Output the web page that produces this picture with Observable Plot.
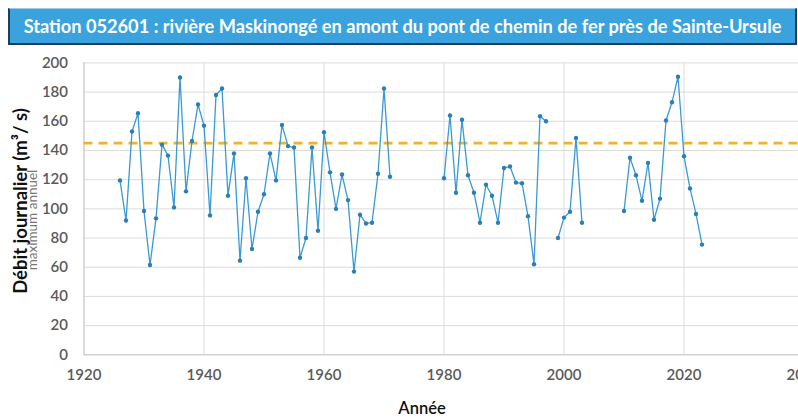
<!DOCTYPE html>
<html>
<head>
<meta charset="utf-8">
<script src="https://cdn.jsdelivr.net/npm/d3@7"></script>
<script src="https://cdn.jsdelivr.net/npm/@observablehq/plot@0.6"></script>
<style>
  html, body { margin: 0; padding: 0; background: #fff; overflow: hidden; }
  #wrap { position: relative; width: 798px; height: 418px; overflow: hidden; font-family: Lato, "Open Sans", sans-serif; }
  #chart { position: absolute; left: 0; top: 0; width: 830px; }
  #chart svg { max-width: none !important; }
  #title { position: absolute; left: 8px; top: 8px; width: 785px; height: 34px; background: #3aa3dd;
           border-left: 2px solid #1e3f5c; border-right: 2px solid #1e3f5c; border-bottom: 2px solid #1e3f5c; border-top: 1px solid #9cc9e6;
           color: #fff; font-weight: 700; font-size: 18.2px; line-height: 34px; text-align: center; white-space: nowrap; }
  .rot { position: absolute; transform: translate(-50%, -50%) rotate(-90deg); white-space: nowrap; }
  #ylab { left: 20px; top: 201px; font-size: 18.5px; font-weight: 700; color: #111; }
  #ysub { left: 32px; top: 220px; font-size: 13.5px; color: #777; }
  #xlab { position: absolute; left: 422px; top: 408px; transform: translate(-50%, -50%); font-size: 16.5px; font-weight: 600; color: #111; }
</style>
</head>
<body>
<div id="wrap">
  <div id="chart"></div>
  <div id="title">Station 052601 : rivière Maskinongé en amont du pont de chemin de fer près de Sainte-Ursule</div>
  <div id="ylab" class="rot">Débit journalier (m³/ s)</div>
  <div id="ysub" class="rot">maximum annuel</div>
  <div id="xlab">Année</div>
</div>
<script>
const years = [
  1926,1927,1928,1929,1930,1931,1932,1933,1934,1935,1936,1937,1938,1939,1940,
  1941,1942,1943,1944,1945,1946,1947,1948,1949,1950,1951,1952,1953,1954,1955,
  1956,1957,1958,1959,1960,1961,1962,1963,1964,1965,1966,1967,1968,1969,1970,
  1971,1972,1973,1974,1975,1976,1977,1978,1979,1980,1981,1982,1983,1984,1985,
  1986,1987,1988,1989,1990,1991,1992,1993,1994,1995,1996,1997,1998,1999,2000,
  2001,2002,2003,2004,2005,2006,2007,2008,2009,2010,2011,2012,2013,2014,2015,
  2016,2017,2018,2019,2020,2021,2022,2023
];
const debitMax = [
  119.5,92,153,165.5,98.5,61.5,93.5,144,136.5,101,190,112,146.5,171.5,157,
  95.5,178,182.5,109,138,64.5,121,72.5,98,110,138,119.5,157.5,143,142,
  66.5,80,142,85,152.5,125,100,123.5,106,57,96,90,90.5,124,182.5,
  122,null,null,null,null,null,null,null,null,121,164,111,161,123,111,
  90.5,116.5,109,90.5,128,129,118,117.5,95,62,163.5,160,null,80,94,
  98,148.5,90.5,null,null,null,null,null,null,98.5,135,123,105.5,131.5,92.5,
  107,160.5,173,190.5,136,114,96.5,75.5
];
const seuil = 145;
const xTicks = [1920, 1940, 1960, 1980, 2000, 2020, 2040];
const yTicks = [0, 20, 40, 60, 80, 100, 120, 140, 160, 180, 200];

const data = years.map((y, i) => ({annee: y, debit: debitMax[i]}));
const pts = data.filter(d => d.debit != null);

const chart = Plot.plot({
  width: 830,
  height: 418,
  marginLeft: 83.5,
  marginRight: 26.5,
  marginTop: 62.4,
  marginBottom: 63.7,
  style: {fontFamily: "Lato, 'Open Sans', sans-serif", background: "transparent", maxWidth: "none"},
  x: {domain: [1920, 2040], label: null},
  y: {domain: [0, 200], label: null},
  marks: [
    Plot.gridX(xTicks, {stroke: "#dcdcdc", strokeOpacity: 1}),
    Plot.gridY(yTicks, {stroke: "#dcdcdc", strokeOpacity: 1}),
    Plot.ruleY([0], {stroke: "#c8c8c8"}),
    Plot.ruleX([1920], {stroke: "#c8c8c8"}),
    Plot.axisX({ticks: xTicks, tickSize: 0, tickPadding: 15, fontSize: 15, fontWeight: 600, fill: "#5a5a5a", tickFormat: d => String(d), label: null}),
    Plot.axisY({ticks: yTicks, tickSize: 0, tickPadding: 16, fontSize: 15, fontWeight: 600, fill: "#5a5a5a", label: null}),
    Plot.ruleY([seuil], {stroke: "#f0b323", strokeWidth: 2.6, strokeDasharray: "9,6"}),
    Plot.line(data, {x: "annee", y: "debit", stroke: "#3a9ad3", strokeWidth: 1.3, defined: d => d.debit != null}),
    Plot.dot(pts, {x: "annee", y: "debit", r: 2.2, fill: "#2b7fb6", stroke: "none"})
  ]
});
document.getElementById("chart").appendChild(chart);
</script>
</body>
</html>
